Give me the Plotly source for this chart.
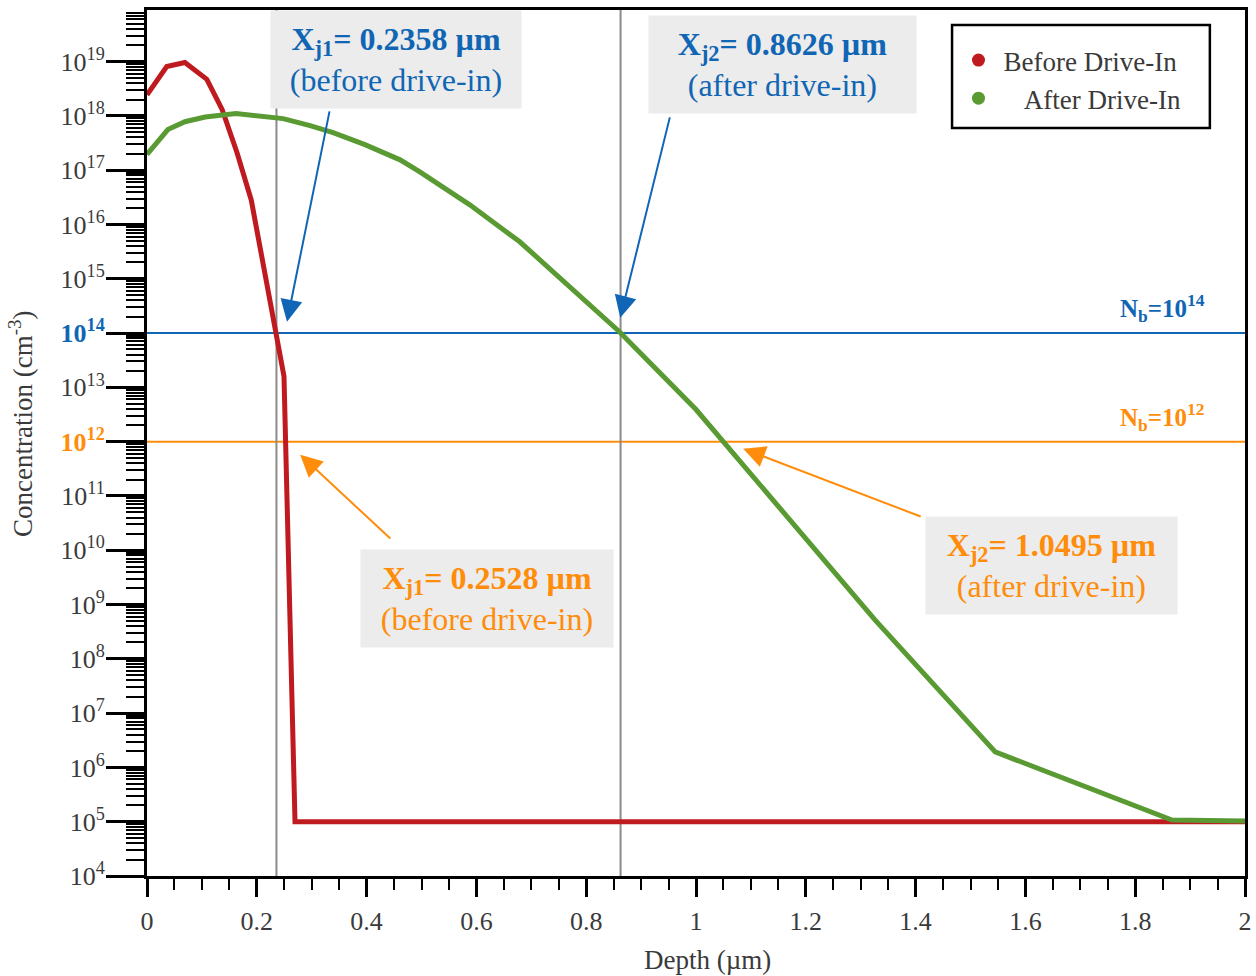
import plotly.graph_objects as go

# Dopant concentration profiles (depth in µm, concentration in cm^-3)
depth_before = [0.0, 0.036, 0.069, 0.109, 0.137, 0.164, 0.190, 0.2495, 0.2696,
                0.4, 0.6, 0.8, 1.0, 1.2, 1.4, 1.6, 1.8, 2.0]
conc_before = [2.45e18, 8.1e18, 9.6e18, 4.7e18, 1.3e18, 2.1e17, 2.8e16, 1.6e13, 1.0e5,
               1.0e5, 1.0e5, 1.0e5, 1.0e5, 1.02e5, 1.0e5, 1.0e5, 1.0e5, 1.0e5]

depth_after = [0.0, 0.038, 0.069, 0.106, 0.162, 0.199, 0.248, 0.297, 0.339, 0.397,
               0.461, 0.497, 0.588, 0.679, 0.789, 0.86, 1.0, 1.326, 1.545, 1.867, 2.0]
conc_after = [1.95e17, 5.6e17, 7.8e17, 9.5e17, 1.1e18, 1.0e18, 8.9e17, 6.6e17, 4.9e17, 2.95e17,
              1.55e17, 9.3e16, 2.3e16, 4.8e15, 4.7e14, 1.07e14, 3.9e12, 5.2e8, 1.93e6, 1.07e5, 1.03e5]

# Background doping levels and junction depths
nb_high, nb_low = 1e14, 1e12
xj_high = [0.2358, 0.8626]   # junctions at Nb = 1e14
xj_low = [0.2528, 1.0495]    # junctions at Nb = 1e12

decades = list(range(4, 20))

RED, GREEN = "#bf1a1f", "#5a9a33"
BLUE, ORANGE = "#1066b4", "#ff8c0a"
FONT = "Liberation Serif"
TXT = "#3a3a3a"
YRANGE = [4, 19.95]

fig = go.Figure()

fig.add_trace(go.Scatter(x=depth_before, y=conc_before, mode="lines",
                         line=dict(color=RED, width=5), showlegend=False))
fig.add_trace(go.Scatter(x=depth_after, y=conc_after, mode="lines",
                         line=dict(color=GREEN, width=5), showlegend=False))

# legend entries shown as dots
fig.add_trace(go.Scatter(x=[None], y=[None], mode="markers", name="Before Drive-In",
                         marker=dict(color=RED, size=13)))
fig.add_trace(go.Scatter(x=[None], y=[None], mode="markers",
                         name="\u00a0\u00a0\u00a0After Drive-In",
                         marker=dict(color=GREEN, size=13)))

# invisible carrier so the minor-tick axis is drawn
fig.add_trace(go.Scatter(x=[0], y=[1e5], yaxis="y2", mode="markers",
                         marker=dict(opacity=0), showlegend=False, hoverinfo="skip"))

# background doping lines
for nb, col in [(nb_high, BLUE), (nb_low, ORANGE)]:
    fig.add_shape(type="line", xref="paper", yref="y", x0=0, x1=1, y0=nb, y1=nb,
                  line=dict(color=col, width=2), layer="below")

# junction depth markers at Nb = 1e14
for xj in xj_high:
    fig.add_shape(type="line", xref="x", yref="paper", x0=xj, x1=xj, y0=0, y1=1,
                  line=dict(color="#8a8a8a", width=2), layer="below")

# legend frame
fig.add_shape(type="rect", xref="paper", yref="paper", x0=0.7332, x1=0.968,
              y0=0.8637, y1=0.9827, line=dict(color="black", width=2.5),
              fillcolor="rgba(0,0,0,0)", layer="above")

ticktext = []
for d in decades:
    if d == 14:
        ticktext.append(f"<b><span style='color:{BLUE}'>10<sup>14</sup></span></b>")
    elif d == 12:
        ticktext.append(f"<b><span style='color:{ORANGE}'>10<sup>12</sup></span></b>")
    else:
        ticktext.append(f"10<sup>{d}</sup>")

major_vals = [10.0 ** d for d in decades]
minor_vals = [k * 10.0 ** d for d in range(4, 20) for k in range(2, 10)]

fig.update_layout(
    yaxis=dict(type="log", range=YRANGE, automargin=False,
               tickmode="array", tickvals=major_vals, ticktext=ticktext,
               ticks="outside", ticklen=38, tickwidth=3, tickcolor="black",
               showline=True, linecolor="black", linewidth=3, mirror=True,
               showgrid=False, zeroline=False, ticklabelstandoff=-4,
               tickfont=dict(family=FONT, size=26, color=TXT)),
    # second left axis carrying the 2..9 minor ticks of each decade
    yaxis2=dict(type="log", range=YRANGE, overlaying="y", side="left", automargin=False,
                tickmode="array", tickvals=minor_vals, showticklabels=False,
                ticks="outside", ticklen=20, tickwidth=1.5, tickcolor="black",
                showline=False, showgrid=False, zeroline=False),
    xaxis=dict(range=[0, 2], tickmode="linear", tick0=0, dtick=0.2, automargin=False,
               ticks="outside", ticklen=18, tickwidth=3, tickcolor="black",
               minor=dict(dtick=0.05, ticks="outside", ticklen=11, tickwidth=1.5,
                          tickcolor="black", showgrid=False),
               showline=True, linecolor="black", linewidth=3, mirror=True,
               showgrid=False, zeroline=False, ticklabelstandoff=2,
               tickfont=dict(family=FONT, size=26, color=TXT)),
)

# axis titles
fig.add_annotation(x=0, y=0.522, xref="paper", yref="paper", xanchor="center",
                   yanchor="middle", xshift=-126, textangle=-90, showarrow=False,
                   text="Concentration (cm<sup>-3</sup>)",
                   font=dict(family=FONT, size=27, color=TXT))
fig.add_annotation(x=0.5, y=0, xref="paper", yref="paper", xanchor="center",
                   yanchor="middle", xshift=11, yshift=-84, showarrow=False,
                   text="Depth (µm)", font=dict(family=FONT, size=27, color=TXT))

# junction depth callouts
boxes = [
    (f"<b>X<sub>j1</sub>= {xj_high[0]} µm</b><br>(before drive-in)", BLUE, 0.4536, 0.9423, 250),
    (f"<b>X<sub>j2</sub>= {xj_high[1]} µm</b><br>(after drive-in)", BLUE, 1.1576, 0.9376, 267),
    (f"<b>X<sub>j1</sub>= {xj_low[0]} µm</b><br>(before drive-in)", ORANGE, 0.6193, 0.321, 252),
    (f"<b>X<sub>j2</sub>= {xj_low[1]} µm</b><br>(after drive-in)", ORANGE, 1.6484, 0.358, 251),
]
for text, col, bx, by, bw in boxes:
    fig.add_annotation(x=bx, y=by, xref="x", yref="paper", xanchor="center", yanchor="middle",
                       text=text, showarrow=False,
                       bgcolor="#ececec", width=bw, height=97, borderpad=0,
                       font=dict(family=FONT, size=32, color=col))

# arrows from callouts to the crossing points (tail -> head, y in log10 units)
arrows = [
    (0.333, 18.11, 0.255, 14.21, BLUE),
    (0.953, 18.00, 0.862, 14.28, BLUE),
    (0.446, 10.19, 0.279, 11.76, ORANGE),
    (1.412, 10.61, 1.086, 11.87, ORANGE),
]
for tx, ty, hx, hy, col in arrows:
    fig.add_annotation(x=hx, y=hy, ax=tx, ay=ty, xref="x", yref="y", axref="x", ayref="y",
                       text="", showarrow=True, arrowhead=2, arrowsize=2.2,
                       arrowwidth=2, arrowcolor=col)

# background doping labels
for nb, exp, col in [(nb_high, 14, BLUE), (nb_low, 12, ORANGE)]:
    fig.add_annotation(x=1.93, y=exp, xref="x", yref="y", xanchor="right", yanchor="bottom",
                       text=f"<b>N<sub>b</sub>=10<sup>{exp}</sup></b>", showarrow=False,
                       yshift=5, font=dict(family=FONT, size=25, color=col))

fig.update_layout(
    width=1256, height=976,
    margin=dict(l=147, r=11, t=10, b=100),
    paper_bgcolor="white", plot_bgcolor="white",
    legend=dict(x=0.7345, y=0.97, xanchor="left", yanchor="top",
                bgcolor="rgba(0,0,0,0)", borderwidth=0,
                font=dict(family=FONT, size=27, color=TXT),
                itemwidth=40, tracegroupgap=0),
)

fig.write_html("out.html")
